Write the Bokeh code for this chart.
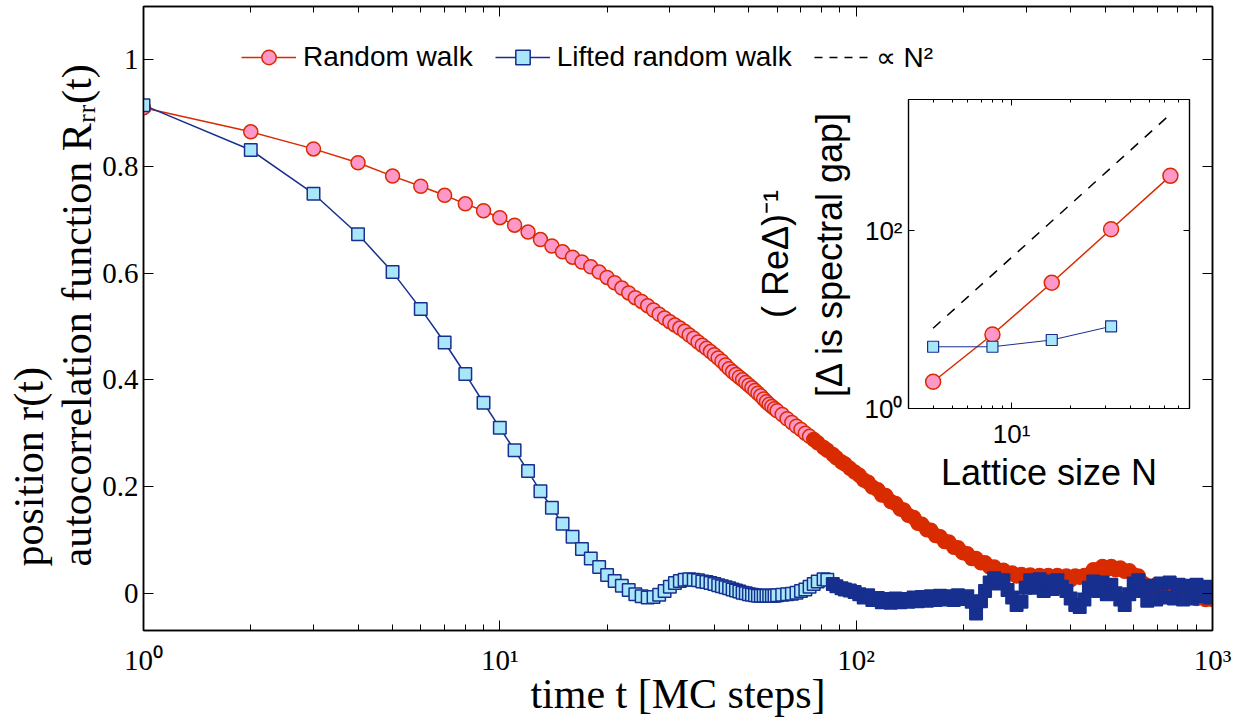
from bokeh.plotting import figure
from bokeh.models import (ColumnDataSource, FixedTicker, LogAxis, LinearAxis,
                          Legend, LegendItem, GridBox, Range1d, Title)
from bokeh.embed import file_html
from bokeh.resources import INLINE

# ---------------- data ----------------
time_steps = list(range(1, 61)) + [
    62, 64, 66, 68, 70, 72, 74, 76, 78, 81, 83, 86, 88, 91, 93, 96, 99,
    102, 105, 108, 111, 115, 118, 121, 125, 129, 133, 136, 140, 145, 149, 153, 158, 162, 167,
    172, 177, 182, 188, 193, 199, 205, 211, 217, 224, 230, 237, 244, 251, 259, 266, 274, 282,
    291, 299, 308, 317, 327, 336, 346, 356, 367, 378, 389, 400, 412, 424, 437, 450, 463, 477,
    491, 505, 520, 535, 551, 567, 584, 601, 619, 637, 656, 675, 695, 715, 736, 758, 780, 803,
    827, 851, 876, 902, 929, 956, 984, 1000]

random_walk = [
    0.910, 0.865, 0.833, 0.807, 0.782, 0.763, 0.746, 0.730, 0.717, 0.704,
    0.690, 0.677, 0.663, 0.651, 0.640, 0.630, 0.621, 0.612, 0.602, 0.592,
    0.582, 0.572, 0.563, 0.554, 0.547, 0.539, 0.531, 0.523, 0.516, 0.509,
    0.503, 0.497, 0.491, 0.484, 0.478, 0.471, 0.465, 0.459, 0.453, 0.447,
    0.441, 0.435, 0.428, 0.421, 0.415, 0.410, 0.405, 0.400, 0.395, 0.390,
    0.385, 0.380, 0.375, 0.370, 0.364, 0.359, 0.354, 0.350, 0.346, 0.342,
    0.335, 0.327, 0.320, 0.313, 0.307, 0.300, 0.294, 0.288, 0.282, 0.273,
    0.268, 0.260, 0.254, 0.246, 0.242, 0.234, 0.227,
    0.221, 0.212, 0.208, 0.199, 0.194, 0.184, 0.183, 0.172, 0.168, 0.158,
    0.156, 0.146, 0.142, 0.131, 0.129, 0.119, 0.118, 0.108, 0.106, 0.097,
    0.096, 0.086, 0.085, 0.076,
    0.074, 0.065, 0.065, 0.057, 0.057, 0.049, 0.049, 0.042, 0.043, 0.036,
    0.038, 0.032, 0.035, 0.030,
    0.034, 0.028, 0.033, 0.027, 0.033, 0.028, 0.033, 0.026, 0.032, 0.025,
    0.032, 0.030, 0.033, 0.034, 0.044, 0.044, 0.050, 0.045, 0.050, 0.044,
    0.047, 0.041, 0.042, 0.034, 0.032, 0.019, 0.014, 0.007, 0.016,
    0.008, 0.004, 0.012, 0.006, -0.004, 0.006, -0.008, 0.003, -0.010, 0.000,
    -0.012, 0.008, -0.012]

lifted_walk = [
    0.915, 0.831, 0.749, 0.673, 0.602, 0.533, 0.470, 0.411, 0.357, 0.310,
    0.268, 0.229, 0.191, 0.160, 0.130, 0.106, 0.083, 0.065, 0.049, 0.034,
    0.023, 0.014, 0.006, -0.002, -0.006, -0.008, -0.007, -0.003, 0.004, 0.012,
    0.019, 0.023, 0.025, 0.026, 0.025, 0.024, 0.022, 0.021, 0.019, 0.017,
    0.015, 0.013, 0.011, 0.009, 0.007, 0.005, 0.003, 0.001, 0.000, -0.002,
    -0.003, -0.004, -0.005, -0.005, -0.005, -0.005, -0.005, -0.005, -0.005, -0.004,
    -0.003, -0.002, -0.001, 0.001, 0.004, 0.007, 0.012, 0.017, 0.022, 0.026,
    0.025, 0.017, 0.013, 0.009, 0.007, 0.005, 0.002,
    -0.002, -0.008, -0.004, -0.013, -0.009, -0.017, -0.011, -0.018, -0.010, -0.017,
    -0.011, -0.016, -0.008, -0.015, -0.007, -0.014, -0.006, -0.013, -0.005, -0.012,
    -0.006, -0.013, -0.004, -0.011,
    -0.006, -0.016, -0.038, -0.015, 0.004, 0.020, 0.028, 0.018, 0.024, 0.006,
    -0.008, -0.022, -0.016, 0.010,
    0.024, 0.010, 0.026, 0.004, 0.022, 0.008, 0.024, 0.012, 0.004, -0.010,
    -0.022, -0.026, -0.012, 0.010, 0.022, 0.004, 0.020, -0.002, 0.016, 0.000,
    -0.012, -0.022, -0.002, 0.018, 0.024, 0.004, -0.014, 0.014, -0.012,
    0.018, -0.008, 0.020, -0.010, 0.016, -0.012, 0.014, -0.010, 0.016, -0.006,
    0.012, -0.008, 0.005]

# inset: inverse spectral gap vs lattice size
lattice_N = [4, 8, 16, 32, 64]
gap_inv_random = [2.0, 6.8, 26.0, 104.0, 415.0]
lattice_N_lifted = [4, 8, 16, 32]
gap_inv_lifted = [4.95, 4.95, 5.9, 8.4]
scaling_N = [4, 64]
scaling_N2 = [8.0, 2050.0]

x_major = [1, 10, 100, 1000]
x_minor = [2, 3, 4, 5, 6, 7, 8, 9, 20, 30, 40, 50, 60, 70, 80, 90,
           200, 300, 400, 500, 600, 700, 800, 900]
x_labels = ["10\u2070", "10\u00b9", "10\u00b2", "10\u00b3"]
y_major = [0, 0.2, 0.4, 0.6, 0.8, 1]
y_labels = ["0", "0.2", "0.4", "0.6", "0.8", "1"]

# ---------------- style ----------------
RED = "#d92b00"
PINK = "#ff97c8"
NAVY = "#172f8e"
LIGHT = "#a8e6fa"
SERIF = "Liberation Serif"
SANS = "Liberation Sans"

rw_fill = [PINK if ti < 75 else RED for ti in time_steps]
lrw_fill = [LIGHT if ti < 84 else NAVY for ti in time_steps]
src = ColumnDataSource(dict(t=time_steps, rw=random_walk, lrw=lifted_walk,
                            rw_fill=rw_fill, lrw_fill=lrw_fill))


def style_axis(ax, major_in, minor_in, font, size, width=1.5):
    ax.major_tick_in = major_in
    ax.major_tick_out = 0
    ax.minor_tick_in = minor_in
    ax.minor_tick_out = 0
    ax.axis_line_color = "black"
    ax.axis_line_width = width
    ax.major_tick_line_color = "black"
    ax.minor_tick_line_color = "black"
    ax.major_tick_line_width = 1
    ax.minor_tick_line_width = 1
    ax.major_label_text_font = font
    ax.major_label_text_font_size = size
    ax.major_label_text_color = "black"
    ax.axis_label_text_color = "black"


# ---------------- main figure ----------------
p = figure(width=1236, height=719, x_axis_type="log",
           x_range=Range1d(1, 1000), y_range=Range1d(-0.07, 1.1),
           output_backend="svg", toolbar_location=None,
           min_border_left=143, min_border_right=24, min_border_top=6,
           min_border_bottom=86)
p.grid.visible = False
p.outline_line_color = "black"
p.outline_line_width = 1.5
p.background_fill_color = "white"
p.border_fill_color = "white"

xt = FixedTicker(ticks=x_major, minor_ticks=x_minor)
yt = FixedTicker(ticks=y_major, minor_ticks=[])

xa = p.xaxis[0]
xa.ticker = xt
xa.major_label_overrides = dict(zip(x_major, x_labels))
style_axis(xa, 10, 6, SERIF, "29px")
xa.major_label_standoff = 13
xa.axis_label = "time t [MC steps]"
xa.axis_label_text_font = SERIF
xa.axis_label_text_font_size = "42px"
xa.axis_label_text_font_style = "normal"
xa.axis_label_standoff = -8

ya = p.yaxis[0]
ya.ticker = yt
ya.major_label_overrides = dict(zip(y_major, y_labels))
style_axis(ya, 10, 0, SERIF, "29px")
ya.major_label_standoff = 5

# two-line y title: both lines start at the same height above the frame bottom
for txt in ("autocorrelation function R\u1d63\u1d63(t)", "position r(t)"):
    p.add_layout(Title(text=txt, align="left", offset=64, standoff=0,
                       text_font=SERIF, text_font_size="42px",
                       text_font_style="normal", text_color="black"), "left")

top = LogAxis(ticker=xt, major_label_overrides={k: "" for k in x_major})
style_axis(top, 10, 6, SERIF, "1px")
top.major_label_standoff = 0
p.add_layout(top, "above")
right = LinearAxis(ticker=yt, major_label_overrides={k: "" for k in y_major})
style_axis(right, 10, 0, SERIF, "1px")
right.major_label_standoff = 0
p.add_layout(right, "right")

r_line = p.line("t", "rw", source=src, line_color=RED, line_width=1.5)
r_pts = p.scatter("t", "rw", source=src, marker="circle", size=14,
                  fill_color="rw_fill", line_color=RED, line_width=1.5)
b_line = p.line("t", "lrw", source=src, line_color=NAVY, line_width=1.5)
b_pts = p.scatter("t", "lrw", source=src, marker="square", size=12.5,
                  fill_color="lrw_fill", line_color=NAVY, line_width=1.5)
# the N^2 guide belongs to the inset; here it only feeds the legend (lies far outside the y range)
d_line = p.line(scaling_N, scaling_N2, line_color="black", line_width=1.3, line_dash="8 7")

legend = Legend(items=[
    LegendItem(label="Random walk", renderers=[r_line, r_pts]),
    LegendItem(label="Lifted random walk", renderers=[b_line, b_pts]),
    LegendItem(label="\u221d N\u00b2", renderers=[d_line]),
], orientation="horizontal", location=(98, 555))
legend.glyph_width = 55
legend.glyph_height = 36
legend.label_standoff = 7
legend.spacing = 22
legend.padding = 0
legend.margin = 0
legend.border_line_alpha = 0
legend.background_fill_alpha = 0
legend.label_text_font = SANS
legend.label_text_font_size = "28px"
legend.label_text_color = "black"
p.add_layout(legend)

# ---------------- inset figure ----------------
q = figure(width=452, height=405, x_axis_type="log", y_axis_type="log",
           x_range=Range1d(3, 80), y_range=Range1d(1, 3000),
           output_backend="svg", toolbar_location=None,
           min_border_left=160, min_border_right=11, min_border_top=9,
           min_border_bottom=87)
q.grid.visible = False
q.outline_line_color = "black"
q.outline_line_width = 1.2
q.background_fill_color = "white"
q.border_fill_color = None

qxt = FixedTicker(ticks=[10], minor_ticks=[3, 4, 5, 6, 7, 8, 9, 20, 30, 40, 50, 60, 70, 80])
qyt = FixedTicker(ticks=[1, 100], minor_ticks=[])

qx = q.xaxis[0]
qx.ticker = qxt
qx.major_label_overrides = {10: "10\u00b9"}
style_axis(qx, 6, 3, SANS, "26px", width=1.2)
qx.major_label_standoff = 10
qx.axis_label = "Lattice size N"
qx.axis_label_text_font = SANS
qx.axis_label_text_font_size = "36px"
qx.axis_label_text_font_style = "normal"
qx.axis_label_standoff = 0

qy = q.yaxis[0]
qy.ticker = qyt
qy.major_label_overrides = {1: "10\u2070", 100: "10\u00b2"}
style_axis(qy, 6, 0, SANS, "26px", width=1.2)
qy.major_label_standoff = 6
qy.axis_label = "( Re\u0394)\u207b\u00b9\n[\u0394 is spectral gap]"
qy.axis_label_text_font = SANS
qy.axis_label_text_font_size = "36px"
qy.axis_label_text_font_style = "normal"
qy.axis_label_text_line_height = 1.3
qy.axis_label_standoff = 12

qtop = LogAxis(ticker=qxt, major_label_overrides={10: ""})
style_axis(qtop, 6, 3, SANS, "1px", width=1.2)
qtop.major_label_standoff = 0
q.add_layout(qtop, "above")
qright = LogAxis(ticker=qyt, major_label_overrides={1: "", 100: ""})
style_axis(qright, 6, 0, SANS, "1px", width=1.2)
qright.major_label_standoff = 0
q.add_layout(qright, "right")

q.line(scaling_N, scaling_N2, line_color="black", line_width=1.5, line_dash="10 9")
q.line(lattice_N, gap_inv_random, line_color=RED, line_width=1.5)
q.scatter(lattice_N, gap_inv_random, marker="circle", size=15,
          fill_color=PINK, line_color=RED, line_width=1.5)
q.line(lattice_N_lifted, gap_inv_lifted, line_color=NAVY, line_width=1)
q.scatter(lattice_N_lifted, gap_inv_lifted, marker="square", size=11,
          fill_color=LIGHT, line_color=NAVY, line_width=1.2)

# ---------------- overlay via grid (inset sits on top of the main plot) ----------------
grid = GridBox(children=[(p, 0, 0, 3, 3), (q, 1, 1, 1, 1)],
               rows=["90px", "405px", "224px"], cols=["748px", "452px", "36px"])

open("out.html", "w").write(file_html(grid, INLINE))
